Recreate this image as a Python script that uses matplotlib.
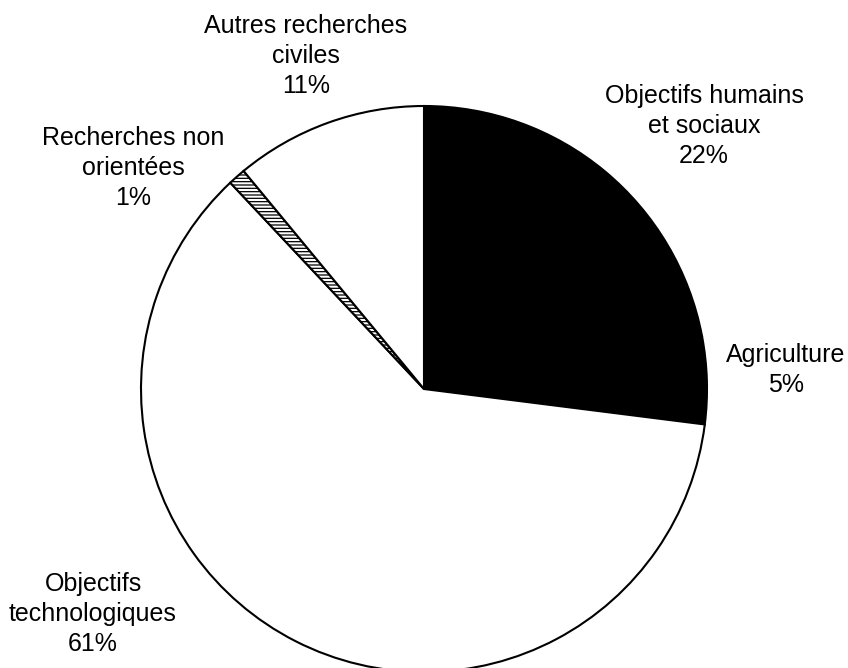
import matplotlib
matplotlib.use('Agg')
from matplotlib import pyplot as plt

names = ['Objectifs humains\net sociaux', 'Agriculture', 'Objectifs\ntechnologiques',
         'Recherches non\norientées', 'Autres recherches\nciviles']
shares = [22, 5, 61, 1, 11]
fills = ['black', 'black', 'white', 'white', 'white']
hatches = [None, None, None, '-----', None]

# where each label sits, in figure pixels from the top left (centre of text block)
label_px = [(704, 126), (786, 370), (93, 614), (133, 168), (306, 56)]

W, H = 848, 668
cx, cy, rad = 424, 389, 283

plt.rcParams['font.family'] = ['Liberation Sans', 'DejaVu Sans']
plt.rcParams['hatch.linewidth'] = 0.9

fig = plt.figure(figsize=(W / 100, H / 100), dpi=100)
ax = fig.add_axes([0, 0, 1, 1])

wedges, _ = ax.pie(shares, colors=fills, startangle=90, counterclock=False,
                   radius=1.0, center=(0, 0),
                   wedgeprops=dict(edgecolor='black', linewidth=1.5))
for w, h in zip(wedges, hatches):
    if h:
        w.set_hatch(h)

ax.set_xlim(-cx / rad, (W - cx) / rad)
ax.set_ylim(-(H - cy) / rad, cy / rad)
ax.set_aspect('auto')
ax.axis('off')

for name, share, (px, py) in zip(names, shares, label_px):
    ax.text(px / W, 1 - py / H, '%s\n%d%%' % (name, share), transform=ax.transAxes,
            ha='center', va='center', fontsize=18, linespacing=1.32)

fig.savefig('out.png', dpi=100)
